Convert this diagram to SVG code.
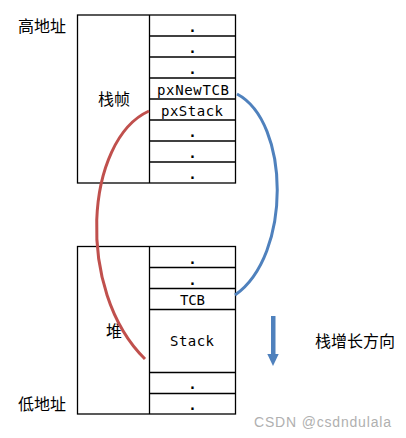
<svg xmlns="http://www.w3.org/2000/svg" width="406" height="438" viewBox="0 0 406 438">
<style>
.box{fill:none;stroke:#000;stroke-width:1.3}
.ln{stroke:#000;stroke-width:1.3}
.cn{font-family:"Noto Sans CJK SC","Liberation Sans",sans-serif;font-size:16px;fill:#000}
.mono{font-family:"DejaVu Sans Mono","Liberation Mono",monospace;font-size:14px;fill:#000;text-anchor:middle}
.dot{font-family:"DejaVu Sans Mono",monospace;font-size:14px;font-weight:bold;fill:#000;text-anchor:middle}
</style>
<rect width="406" height="438" fill="#fff"/>
<text class="cn" x="18" y="32">高地址</text>
<text class="cn" x="18" y="410">低地址</text>
<g id="stackframe">
<rect class="box" x="77.5" y="15" width="158" height="168"/>
<line class="ln" x1="149.5" y1="15" x2="149.5" y2="183"/>
<line class="ln" x1="149.5" y1="36" x2="235.5" y2="36"/>
<line class="ln" x1="149.5" y1="57" x2="235.5" y2="57"/>
<line class="ln" x1="149.5" y1="78" x2="235.5" y2="78"/>
<line class="ln" x1="149.5" y1="99" x2="235.5" y2="99"/>
<line class="ln" x1="149.5" y1="120" x2="235.5" y2="120"/>
<line class="ln" x1="149.5" y1="141" x2="235.5" y2="141"/>
<line class="ln" x1="149.5" y1="162" x2="235.5" y2="162"/>
<text class="cn" x="114" y="105" text-anchor="middle">栈帧</text>
<text class="dot" x="192.5" y="32">.</text>
<text class="dot" x="192.5" y="53">.</text>
<text class="dot" x="192.5" y="74">.</text>
<text class="mono" x="193" y="95" textLength="72" lengthAdjust="spacing">pxNewTCB</text>
<text class="mono" x="192" y="116" textLength="62" lengthAdjust="spacing">pxStack</text>
<text class="dot" x="192.5" y="137">.</text>
<text class="dot" x="192.5" y="158">.</text>
<text class="dot" x="192.5" y="179">.</text>
</g>
<g id="heap">
<rect class="box" x="77.5" y="246.5" width="158" height="167.5"/>
<line class="ln" x1="149.5" y1="246.5" x2="149.5" y2="414"/>
<line class="ln" x1="149.5" y1="267.5" x2="235.5" y2="267.5"/>
<line class="ln" x1="149.5" y1="288.5" x2="235.5" y2="288.5"/>
<line class="ln" x1="149.5" y1="309.5" x2="235.5" y2="309.5"/>
<line class="ln" x1="149.5" y1="372.5" x2="235.5" y2="372.5"/>
<line class="ln" x1="149.5" y1="393.5" x2="235.5" y2="393.5"/>
<text class="cn" x="114" y="337" text-anchor="middle">堆</text>
<text class="dot" x="192.5" y="264">.</text>
<text class="dot" x="192.5" y="285">.</text>
<text class="mono" x="192.5" y="305" textLength="25" lengthAdjust="spacing">TCB</text>
<text class="mono" x="192" y="346" textLength="44" lengthAdjust="spacing">Stack</text>
<text class="dot" x="192.5" y="389">.</text>
<text class="dot" x="192.5" y="410">.</text>
</g>
<g id="connectors" fill="none" stroke-width="3">
<path d="M149,111 C85,140 75,290 145,359" stroke="#c0504d"/>
<path d="M237,94 C290,122 292,255 235,295" stroke="#4f81bd"/>
</g>
<g id="direction">
<rect x="271" y="316" width="4.5" height="39" fill="#4f81bd"/>
<polygon points="267.3,354 278.7,354 273,366" fill="#4f81bd"/>
<text class="cn" x="315" y="347">栈增长方向</text>
</g>
<text x="254" y="427" font-family="Liberation Sans,Arial,sans-serif" font-size="14" fill="#b0b0b0" textLength="137">CSDN @csdndulala</text>
</svg>
